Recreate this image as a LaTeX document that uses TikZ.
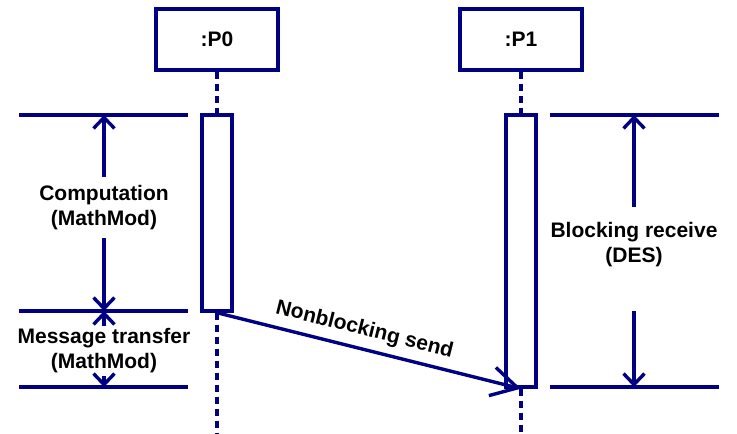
\documentclass[tikz,border=0pt]{standalone}
\usepackage{fontspec}
\setmainfont{Liberation Sans}
\usetikzlibrary{arrows.meta}
\definecolor{navy}{RGB}{0,0,128}
\begin{document}
\begin{tikzpicture}[x=1pt,y=-1pt,
    line width=3.4pt,
    every node/.style={font=\bfseries\fontsize{21}{25}\selectfont, align=center, text=black},
    obj/.style={draw=navy, line width=3.4pt, minimum width=122pt, minimum height=61pt},
    act/.style={draw=navy, line width=3.4pt, minimum width=30pt, inner sep=0pt},
    life/.style={draw=navy, line width=3.2pt, dash pattern=on 7pt off 5pt},
    guide/.style={draw=navy},
    dim/.style={draw=navy, -{Straight Barb[length=11pt,width=21pt]}},
    msg/.style={draw=navy, -{Straight Barb[length=26pt,width=29pt]}}]
  \useasboundingbox (0,0) rectangle (737,434);

  % Objects and activations
  \node[obj] (P0) at (217,39.5) {:P0};
  \node[obj] (P1) at (521,39.5) {:P1};
  \node[act, minimum height=196pt] (A0) at (217,213) {};
  \node[act, minimum height=272pt] (A1) at (521,251) {};

  % Lifelines
  \coordinate (E0) at (217,434);
  \coordinate (E1) at (521,434);
  \draw[life] (P0.south) -- (A0.north);
  \draw[life] (A0.south) -- (E0);
  \draw[life] (P1.south) -- (A1.north);
  \draw[life] (A1.south) -- (E1);

  % Guide lines
  \draw[guide] (19,115) -- (188,115);
  \draw[guide] (19,311) -- (188,311);
  \draw[guide] (19,387) -- (188,387);
  \draw[guide] (550,115) -- (719,115);
  \draw[guide] (550,387) -- (719,387);

  % Computation
  \node[inner sep=7pt] (comp) at (104,207.5) {Computation\\(MathMod)};
  \coordinate (C1) at (104,115);
  \coordinate (C2) at (104,311);
  \draw[dim] (comp.north) -- (C1);
  \draw[dim] (comp.south) -- (C2);

  % Message transfer
  \node[inner sep=1pt] (trans) at (104,351) {Message transfer\\(MathMod)};
  \coordinate (M2) at (104,387);
  \draw[dim] (trans.north) -- (C2);
  \draw[dim] (trans.south) -- (M2);

  % Blocking receive
  \node (recv) at (634,245) {Blocking receive\\(DES)};
  \coordinate (R1) at (634,115);
  \coordinate (R2) at (634,387);
  \coordinate (G1) at (634,207);
  \coordinate (G2) at (634,311);
  \draw[dim] (G1) -- (R1);
  \draw[dim] (G2) -- (R2);

  % Nonblocking send
  \draw[msg] (A0.south) -- (A1.south)
    node[pos=0.47, sloped, above=4pt] {Nonblocking send};
\end{tikzpicture}
\end{document}
